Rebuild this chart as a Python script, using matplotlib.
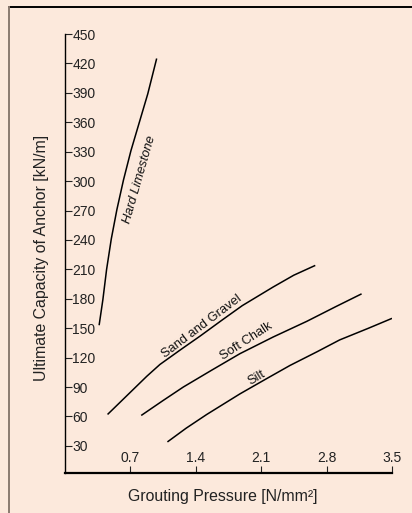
import matplotlib
matplotlib.use("Agg")
import matplotlib.pyplot as plt
from matplotlib.lines import Line2D

plt.rcParams['font.family'] = ['Liberation Sans', 'DejaVu Sans']

# Data
limestone_x = [0.37, 0.41, 0.45, 0.50, 0.56, 0.63, 0.71, 0.80, 0.89, 0.985]
limestone_y = [153, 179, 210, 241, 271, 301, 331, 360, 389, 425]

sand_x = [0.46, 0.60, 0.74, 0.88, 1.02, 1.24, 1.45, 1.68, 1.90, 2.23, 2.45, 2.68]
sand_y = [62, 75, 88, 101, 113, 128, 142, 158, 173, 192, 204, 214]

chalk_x = [0.82, 1.05, 1.27, 1.57, 1.875, 2.23, 2.59, 2.90, 3.175]
chalk_y = [61, 76, 90, 107, 124, 141, 157, 172, 185]

silt_x = [1.10, 1.30, 1.52, 1.875, 2.15, 2.41, 2.70, 2.94, 3.25, 3.50]
silt_y = [34, 48, 62, 83, 98, 112, 126, 138, 150, 160]

x_ticks = [0.7, 1.4, 2.1, 2.8, 3.5]
y_ticks = [30, 60, 90, 120, 150, 180, 210, 240, 270, 300, 330, 360, 390, 420, 450]

labels = ["Hard Limestone", "Sand and Gravel", "Soft Chalk", "Silt"]
label_pos = [(0.80, 302), (1.47, 152), (1.94, 137), (2.05, 99)]
label_rot = [74, 37, 33, 31]

bg = '#FCE9DC'
W, H = 412, 513
fig = plt.figure(figsize=(W / 100, H / 100), dpi=100, facecolor=bg)

left = 64.5 / W
right = 392 / W
bottom = 1 - 473.3 / H
top = 1 - 34 / H
ax = fig.add_axes([left, bottom, right - left, top - bottom])
ax.set_facecolor(bg)

for xs, ys in [(limestone_x, limestone_y), (sand_x, sand_y), (chalk_x, chalk_y), (silt_x, silt_y)]:
    ax.plot(xs, ys, color='black', lw=1.1, solid_capstyle='butt', solid_joinstyle='round')

for txt, (tx, ty), rot in zip(labels, label_pos, label_rot):
    ax.text(tx, ty, txt, rotation=rot, ha='center', va='center', fontsize=9.3,
            style='italic' if txt == "Hard Limestone" else 'normal',
            rotation_mode='anchor', color='#111111')

ax.set_xlim(0, 3.5)
ax.set_ylim(2, 450)
ax.spines['top'].set_visible(False)
ax.spines['right'].set_visible(False)
ax.spines['left'].set_linewidth(1.0)
ax.spines['bottom'].set_linewidth(1.6)

ax.set_xticks(x_ticks)
ax.set_xticklabels([f"{v:.1f}" for v in x_ticks])
ax.set_yticks(y_ticks)
ax.set_yticklabels([str(v) for v in y_ticks])

ax.tick_params(axis='y', direction='in', length=5, width=0.8, pad=-5.5, labelsize=10, colors='#222222')
ax.tick_params(axis='x', direction='in', length=5, width=0.8, pad=-5.8, labelsize=10, colors='#222222')
for lbl in ax.get_yticklabels():
    lbl.set_ha('left')
for lbl in ax.get_xticklabels():
    lbl.set_va('bottom')

fig.text(42 / W, 1 - 257.5 / H, "Ultimate Capacity of Anchor [kN/m]", rotation=90,
         ha='center', va='center', fontsize=11.4, color='#222222')
fig.text(223 / W, 1 - 497 / H, "Grouting Pressure [N/mm²]",
         ha='center', va='center', fontsize=11.4, color='#222222')

# frame lines
fig.add_artist(Line2D([8.5 / W, 1], [1 - 6.5 / H, 1 - 6.5 / H], transform=fig.transFigure,
                      color='black', lw=1.4))
fig.add_artist(Line2D([8.5 / W, 8.5 / W], [0, 1 - 6.5 / H], transform=fig.transFigure,
                      color='#8a7a70', lw=1.4))

fig.savefig('out.png', dpi=100, facecolor=bg)
